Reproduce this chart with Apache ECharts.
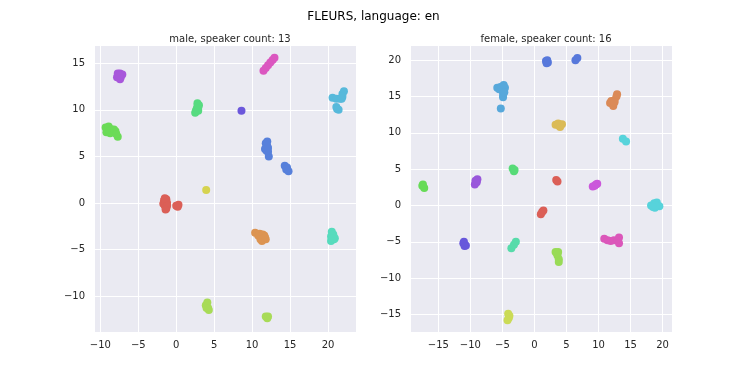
<!DOCTYPE html>
<html>
<head>
<meta charset="utf-8">
<script src="https://cdn.jsdelivr.net/npm/echarts@6/dist/echarts.min.js"></script>
<style>
  html, body { margin: 0; background: #fff; }
  #chart { width: 747px; height: 374px; }
</style>
</head>
<body>
<div id="chart"></div>
<script>
// embeddings, one list of [x, y] per speaker (hls palette order)
const maleSpeakers = [
  [[-1.6, 0.3], [-1.3, 0.4], [-1.2, 0.0], [-1.5, -0.3], [-1.3, -0.6], [-1.7, -0.1], [-1.4, 0.1], [-1.2, -0.3], [-1.5, 0.5], [-1.4, -0.7], [0.0, -0.3], [0.3, -0.2], [0.2, -0.4]],
  [[10.4, -3.2], [10.8, -3.5], [11.2, -3.7], [11.6, -3.5], [11.8, -3.9], [11.3, -4.1], [11.0, -3.3], [11.5, -3.9], [11.4, -3.4], [11.1, -3.9], [11.7, -3.7]],
  [[3.95, 1.38]],
  [[3.9, -11.0], [4.2, -11.3], [4.1, -10.7], [4.3, -11.5], [4.0, -11.3], [12.0, -12.4], [11.8, -12.2], [12.1, -12.2]],
  [[-9.3, 8.1], [-9.0, 7.8], [-8.6, 7.9], [-8.3, 7.7], [-8.0, 7.7], [-9.2, 7.6], [-8.7, 7.5], [-7.7, 7.1], [-8.9, 8.2], [-8.5, 7.9], [-8.8, 7.7], [-8.2, 7.9], [-7.9, 7.4]],
  [[2.6, 9.9], [2.8, 10.4], [3.0, 10.5], [2.7, 10.1], [2.9, 9.9], [2.5, 9.7], [2.8, 10.7], [2.9, 10.2]],
  [[20.5, -3.1], [20.4, -3.6], [20.8, -3.9], [20.4, -4.1], [20.7, -3.4], [20.9, -3.8], [20.6, -3.8]],
  [[20.6, 11.3], [21.1, 11.2], [21.6, 11.2], [21.9, 11.7], [22.1, 12.0], [21.9, 11.4], [21.8, 11.2], [21.1, 10.3], [21.4, 10.0], [21.2, 10.1]],
  [[11.8, 6.4], [12.0, 6.1], [11.7, 5.8], [12.1, 5.5], [12.2, 5.0], [11.9, 6.0], [12.0, 6.6], [11.9, 5.6], [12.1, 5.9], [14.3, 4.0], [14.6, 3.8], [14.8, 3.4], [14.5, 3.6]],
  [[8.6, 9.9]],
  [[-7.8, 13.5], [-7.4, 13.9], [-7.1, 13.8], [-7.6, 13.6], [-7.3, 13.5], [-7.7, 13.9], [-7.4, 13.3], [-7.5, 13.7]],
  [[11.5, 14.2], [11.8, 14.5], [12.1, 14.8], [12.4, 15.1], [12.7, 15.35], [12.95, 15.6]]
];
const maleColors = ['#db5f57', '#dc9452', '#d6d350', '#a8db57', '#6bdb57', '#57db80', '#57dbbd',
  '#57b9db', '#5780db', '#6b57db', '#a857db', '#db57c0'];

const femaleSpeakers = [
  [[3.4, 3.5], [3.6, 3.3], [1.0, -1.2], [1.4, -0.7], [1.2, -0.9]],
  [[11.8, 14.1], [12.3, 14.0], [12.5, 14.5], [12.8, 15.0], [12.9, 15.3], [12.3, 13.7], [12.0, 14.4], [12.5, 14.2]],
  [[3.3, 11.1], [3.8, 11.0], [4.3, 11.2], [4.0, 10.8], [3.7, 11.3], [4.1, 11.1]],
  [[-4.1, -14.9], [-4.0, -15.5], [-4.2, -15.8], [-3.9, -15.2]],
  [[3.3, -6.4], [3.7, -6.4], [3.6, -6.9], [3.8, -7.4], [3.8, -7.8], [3.5, -6.6]],
  [[-17.5, 2.7], [-17.2, 2.4], [-17.4, 2.9]],
  [[-3.4, 5.1], [-3.2, 4.7], [-3.1, 4.9]],
  [[-3.6, -5.9], [-3.2, -5.4], [-2.9, -5.0]],
  [[13.8, 9.2], [14.3, 8.8], [18.2, 0.0], [18.7, 0.3], [19.1, 0.4], [19.5, -0.1], [18.8, -0.3], [19.0, 0.0], [18.5, -0.2]],
  [[-5.8, 16.2], [-5.3, 16.3], [-4.8, 16.6], [-4.6, 16.2], [-5.0, 15.8], [-4.9, 15.2], [-4.9, 14.9], [-5.5, 16.0], [-5.1, 16.3], [-4.7, 15.6], [-5.25, 13.35]],
  [[1.8, 19.9], [2.1, 19.7], [2.0, 20.0], [1.9, 19.6], [6.4, 20.0], [6.7, 20.3]],
  [[-11.1, -5.2], [-10.7, -5.5], [-11.0, -5.0], [-10.9, -5.6]],
  [[-9.3, 2.9], [-9.0, 3.2], [-8.9, 3.6], [-9.2, 3.4]],
  [[9.1, 2.6], [9.6, 2.9], [9.8, 3.0], [9.4, 2.7]],
  [[10.9, -4.6], [11.4, -4.8], [11.9, -4.9], [12.4, -4.8], [13.0, -4.8], [13.2, -4.4], [13.2, -5.2]]
];
const femaleColors = ['#db5f57', '#db8a57', '#dbbb57', '#cbdb57', '#99db57', '#67db57', '#57db78',
  '#57dbaa', '#57d3db', '#57a8db', '#5778db', '#6757db', '#9957db', '#cb57db', '#db57ba'];

const titleText = 'FLEURS, language: en';
const panelTitles = ['male, speaker count: 13', 'female, speaker count: 16'];
const xRanges = [[-10.83, 23.69], [-19.42, 21.47]];
const yRanges = [[-13.87, 16.97], [-17.43, 22.1]];

const chart = echarts.init(document.getElementById('chart'), null, { renderer: 'canvas' });
const font = 'DejaVu Sans';
const minus = v => String(v).replace('-', '\u2212');

const grids = [
  { left: 94, top: 45, width: 262, height: 287 },
  { left: 410, top: 45, width: 262, height: 287 }
].map(g => Object.assign(g, { show: true, backgroundColor: '#eaeaf2', borderWidth: 0 }));

function axis(kind, i, range, split) {
  return {
    type: 'value',
    gridIndex: i,
    min: range[0],
    max: range[1],
    splitNumber: split,
    axisLine: { show: false },
    axisTick: { show: false },
    splitLine: { show: true, lineStyle: { color: '#ffffff', width: 1 } },
    axisLabel: {
      showMinLabel: false, showMaxLabel: false,
      color: '#262626', fontFamily: font, fontSize: 10, margin: kind === 'x' ? 8 : 9,
      formatter: minus
    }
  };
}

const series = [];
maleSpeakers.forEach((pts, k) => series.push({
  type: 'scatter', xAxisIndex: 0, yAxisIndex: 0, data: pts, symbolSize: 8,
  itemStyle: { color: maleColors[k], opacity: 1 }
}));
femaleSpeakers.forEach((pts, k) => series.push({
  type: 'scatter', xAxisIndex: 1, yAxisIndex: 1, data: pts, symbolSize: 8,
  itemStyle: { color: femaleColors[k], opacity: 1 }
}));

chart.setOption({
  animation: false,
  backgroundColor: '#ffffff',
  title: [
    { text: titleText, left: 'center', top: 6, textStyle: { fontFamily: font, fontSize: 12, fontWeight: 'normal', color: '#000' } },
    { text: panelTitles[0], left: 225, top: 29, textAlign: 'center', textStyle: { fontFamily: font, fontSize: 10, fontWeight: 'normal', color: '#262626' } },
    { text: panelTitles[1], left: 541, top: 29, textAlign: 'center', textStyle: { fontFamily: font, fontSize: 10, fontWeight: 'normal', color: '#262626' } }
  ],
  grid: grids,
  xAxis: [axis('x', 0, xRanges[0], 7), axis('x', 1, xRanges[1], 8)],
  yAxis: [axis('y', 0, yRanges[0], 6), axis('y', 1, yRanges[1], 8)],
  series: series
});
</script>
</body>
</html>
